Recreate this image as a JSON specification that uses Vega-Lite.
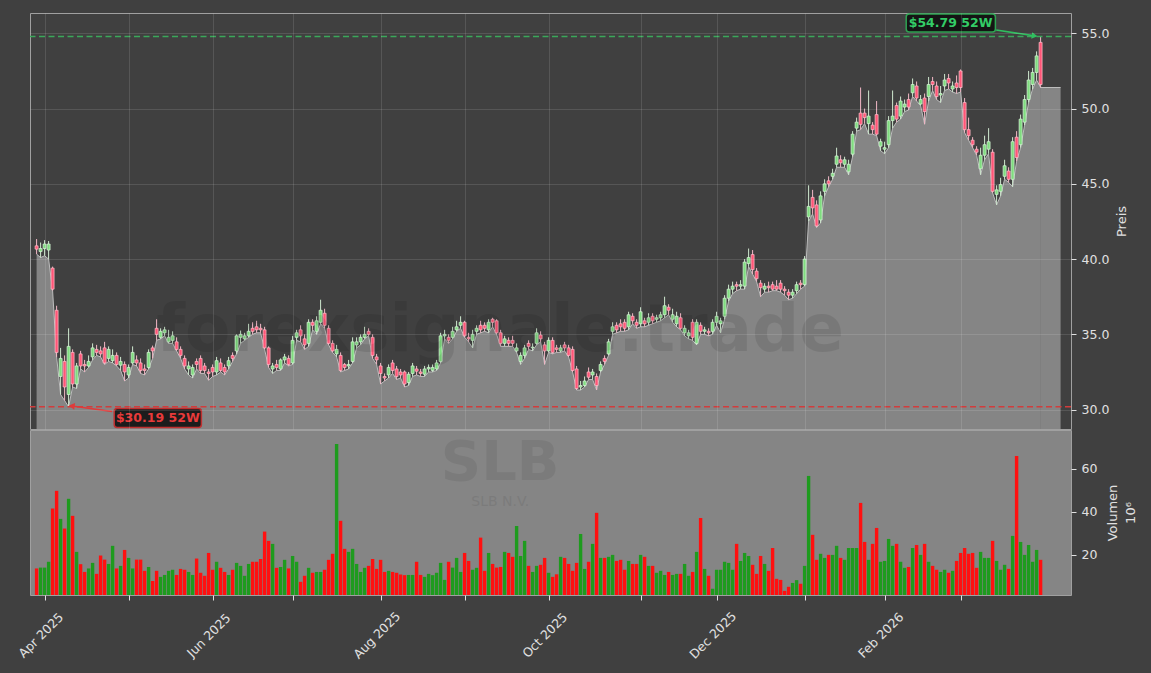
{
"$schema": "https://vega.github.io/schema/vega-lite/v6.json",
"background": "#404040",
"padding": {"left": 15, "top": 12, "right": 20, "bottom": 20},
"config": {"font": "DejaVu Sans", "view": {"stroke": "#a0a0a0", "strokeWidth": 1}},
"datasets": {
"ohlc": [
{"i":0,"o":40.88,"h":41.33,"l":40.33,"c":40.66,"v":13.7},
{"i":1,"o":40.5,"h":41.1,"l":40.1,"c":40.7,"v":14.1},
{"i":2,"o":40.7,"h":41.26,"l":40.22,"c":41.0,"v":14.1},
{"i":3,"o":40.6,"h":41.2,"l":40.0,"c":41.0,"v":16.8},
{"i":4,"o":39.4,"h":39.5,"l":37.9,"c":38.0,"v":41.5},
{"i":5,"o":36.6,"h":36.9,"l":33.5,"c":33.8,"v":49.7},
{"i":6,"o":32.2,"h":34.1,"l":31.0,"c":33.4,"v":36.7},
{"i":7,"o":33.2,"h":33.6,"l":30.6,"c":31.5,"v":32.2},
{"i":8,"o":31.0,"h":35.4,"l":30.19,"c":34.2,"v":46.0},
{"i":9,"o":33.8,"h":34.0,"l":31.5,"c":31.7,"v":38.1},
{"i":10,"o":31.7,"h":33.1,"l":31.4,"c":32.9,"v":21.4},
{"i":11,"o":33.7,"h":33.9,"l":32.7,"c":32.9,"v":15.7},
{"i":12,"o":33.0,"h":33.3,"l":32.5,"c":32.9,"v":12.1},
{"i":13,"o":32.9,"h":33.6,"l":32.8,"c":33.2,"v":13.7},
{"i":14,"o":33.5,"h":34.4,"l":33.3,"c":34.1,"v":16.3},
{"i":15,"o":34.0,"h":34.3,"l":33.6,"c":33.8,"v":11.2},
{"i":16,"o":33.9,"h":34.2,"l":33.5,"c":33.7,"v":19.7},
{"i":17,"o":34.1,"h":34.5,"l":33.0,"c":33.1,"v":17.8},
{"i":18,"o":33.4,"h":34.2,"l":33.2,"c":34.0,"v":15.8},
{"i":19,"o":33.25,"h":34.0,"l":33.1,"c":33.6,"v":24.2},
{"i":20,"o":33.6,"h":33.8,"l":32.9,"c":33.0,"v":13.7},
{"i":21,"o":32.95,"h":33.5,"l":32.6,"c":33.2,"v":14.9},
{"i":22,"o":33.0,"h":33.2,"l":31.9,"c":32.5,"v":22.3},
{"i":23,"o":32.3,"h":33.0,"l":32.1,"c":32.8,"v":18.6},
{"i":24,"o":33.1,"h":34.2,"l":33.0,"c":33.8,"v":13.7},
{"i":25,"o":33.3,"h":33.6,"l":32.9,"c":33.1,"v":17.8},
{"i":26,"o":33.1,"h":33.4,"l":32.4,"c":32.6,"v":17.8},
{"i":27,"o":32.7,"h":33.0,"l":32.3,"c":32.6,"v":12.6},
{"i":28,"o":32.8,"h":34.0,"l":32.7,"c":33.8,"v":14.4},
{"i":29,"o":34.1,"h":34.25,"l":33.4,"c":33.9,"v":7.9},
{"i":30,"o":35.4,"h":36.0,"l":34.6,"c":35.0,"v":12.6},
{"i":31,"o":34.8,"h":35.4,"l":34.7,"c":35.2,"v":9.8},
{"i":32,"o":35.1,"h":35.5,"l":34.9,"c":35.3,"v":10.7},
{"i":33,"o":34.5,"h":35.3,"l":34.4,"c":34.8,"v":12.6},
{"i":34,"o":34.6,"h":35.2,"l":34.4,"c":34.9,"v":13.1},
{"i":35,"o":34.5,"h":34.8,"l":33.9,"c":34.0,"v":10.7},
{"i":36,"o":34.0,"h":34.2,"l":33.4,"c":33.6,"v":13.5},
{"i":37,"o":33.4,"h":33.6,"l":32.7,"c":32.9,"v":13.1},
{"i":38,"o":32.7,"h":33.2,"l":32.3,"c":32.9,"v":12.1},
{"i":39,"o":32.3,"h":33.0,"l":32.1,"c":32.8,"v":10.7},
{"i":40,"o":33.2,"h":33.4,"l":32.7,"c":33.0,"v":18.3},
{"i":41,"o":33.4,"h":33.6,"l":32.4,"c":32.6,"v":11.7},
{"i":42,"o":32.9,"h":33.1,"l":32.4,"c":32.6,"v":10.3},
{"i":43,"o":32.5,"h":32.7,"l":31.95,"c":32.4,"v":20.9},
{"i":44,"o":32.8,"h":33.0,"l":32.2,"c":32.5,"v":13.1},
{"i":45,"o":32.5,"h":33.5,"l":32.3,"c":33.25,"v":16.8},
{"i":46,"o":33.1,"h":33.4,"l":32.5,"c":32.6,"v":14.0},
{"i":47,"o":32.8,"h":33.0,"l":32.3,"c":32.5,"v":12.1},
{"i":48,"o":32.9,"h":33.5,"l":32.7,"c":33.25,"v":10.7},
{"i":49,"o":33.6,"h":33.8,"l":33.2,"c":33.4,"v":13.1},
{"i":50,"o":33.9,"h":35.0,"l":33.7,"c":34.9,"v":16.3},
{"i":51,"o":34.8,"h":35.25,"l":34.4,"c":35.0,"v":14.9},
{"i":52,"o":34.7,"h":35.1,"l":34.6,"c":34.9,"v":10.3},
{"i":53,"o":34.9,"h":35.7,"l":34.8,"c":35.2,"v":15.8},
{"i":54,"o":35.4,"h":35.8,"l":35.0,"c":35.2,"v":16.8},
{"i":55,"o":35.5,"h":35.9,"l":35.1,"c":35.3,"v":16.8},
{"i":56,"o":35.4,"h":35.7,"l":35.1,"c":35.3,"v":18.1},
{"i":57,"o":35.3,"h":35.5,"l":34.0,"c":34.1,"v":30.8},
{"i":58,"o":34.1,"h":34.2,"l":32.8,"c":33.0,"v":26.5},
{"i":59,"o":32.7,"h":33.1,"l":32.4,"c":32.9,"v":25.1},
{"i":60,"o":33.0,"h":33.3,"l":32.6,"c":32.8,"v":14.0},
{"i":61,"o":32.7,"h":33.4,"l":32.6,"c":33.3,"v":14.4},
{"i":62,"o":33.3,"h":33.7,"l":33.1,"c":33.5,"v":17.7},
{"i":63,"o":33.4,"h":33.6,"l":32.9,"c":33.0,"v":13.7},
{"i":64,"o":33.1,"h":34.9,"l":33.0,"c":34.6,"v":19.5},
{"i":65,"o":34.8,"h":35.3,"l":34.6,"c":35.1,"v":16.8},
{"i":66,"o":35.3,"h":35.6,"l":34.5,"c":34.9,"v":7.5},
{"i":67,"o":34.7,"h":35.0,"l":34.0,"c":34.3,"v":10.3},
{"i":68,"o":34.4,"h":36.0,"l":34.2,"c":35.8,"v":14.0},
{"i":69,"o":35.8,"h":36.0,"l":35.3,"c":35.6,"v":11.7},
{"i":70,"o":35.2,"h":36.2,"l":35.0,"c":35.9,"v":12.1},
{"i":71,"o":35.8,"h":37.3,"l":35.7,"c":36.6,"v":12.1},
{"i":72,"o":36.4,"h":36.7,"l":35.4,"c":35.6,"v":13.1},
{"i":73,"o":35.4,"h":35.6,"l":34.3,"c":34.4,"v":17.7},
{"i":74,"o":34.4,"h":34.6,"l":33.8,"c":33.9,"v":20.5},
{"i":75,"o":33.7,"h":34.3,"l":33.5,"c":34.0,"v":71.4},
{"i":76,"o":33.6,"h":33.8,"l":32.5,"c":32.6,"v":35.8},
{"i":77,"o":33.0,"h":33.1,"l":32.6,"c":32.8,"v":22.8},
{"i":78,"o":32.9,"h":33.3,"l":32.7,"c":33.0,"v":21.4},
{"i":79,"o":33.2,"h":34.8,"l":33.1,"c":34.5,"v":22.8},
{"i":80,"o":34.3,"h":34.8,"l":34.1,"c":34.5,"v":15.8},
{"i":81,"o":34.5,"h":35.0,"l":34.3,"c":34.8,"v":12.1},
{"i":82,"o":34.8,"h":35.5,"l":34.7,"c":35.0,"v":14.0},
{"i":83,"o":35.2,"h":35.4,"l":34.9,"c":35.0,"v":14.9},
{"i":84,"o":34.8,"h":35.0,"l":33.4,"c":33.6,"v":18.1},
{"i":85,"o":33.5,"h":33.7,"l":33.0,"c":33.3,"v":13.5},
{"i":86,"o":32.9,"h":33.1,"l":31.7,"c":32.4,"v":17.7},
{"i":87,"o":32.2,"h":32.4,"l":31.9,"c":32.1,"v":12.1},
{"i":88,"o":32.3,"h":33.0,"l":32.1,"c":32.8,"v":12.6},
{"i":89,"o":33.1,"h":33.3,"l":32.4,"c":32.6,"v":12.1},
{"i":90,"o":32.7,"h":32.9,"l":32.0,"c":32.2,"v":11.7},
{"i":91,"o":32.5,"h":32.7,"l":32.1,"c":32.3,"v":10.9},
{"i":92,"o":32.5,"h":32.6,"l":31.5,"c":31.7,"v":10.6},
{"i":93,"o":31.8,"h":32.5,"l":31.6,"c":32.35,"v":10.7},
{"i":94,"o":32.4,"h":33.1,"l":32.2,"c":32.9,"v":10.7},
{"i":95,"o":32.7,"h":32.9,"l":32.3,"c":32.55,"v":16.8},
{"i":96,"o":32.5,"h":32.7,"l":32.2,"c":32.4,"v":10.7},
{"i":97,"o":32.35,"h":32.9,"l":32.2,"c":32.7,"v":9.8},
{"i":98,"o":32.7,"h":33.0,"l":32.5,"c":32.8,"v":11.2},
{"i":99,"o":32.6,"h":33.0,"l":32.5,"c":32.8,"v":10.6},
{"i":100,"o":32.7,"h":33.3,"l":32.6,"c":33.1,"v":11.7},
{"i":101,"o":33.2,"h":35.1,"l":33.1,"c":34.9,"v":16.3},
{"i":102,"o":34.9,"h":35.3,"l":34.7,"c":35.0,"v":8.4},
{"i":103,"o":34.8,"h":35.0,"l":34.4,"c":34.6,"v":16.8},
{"i":104,"o":34.8,"h":35.5,"l":34.7,"c":35.2,"v":14.1},
{"i":105,"o":35.3,"h":35.9,"l":35.2,"c":35.5,"v":18.6},
{"i":106,"o":35.6,"h":36.2,"l":35.4,"c":35.8,"v":12.1},
{"i":107,"o":35.8,"h":35.9,"l":34.8,"c":34.9,"v":20.9},
{"i":108,"o":34.8,"h":35.1,"l":34.5,"c":34.7,"v":17.2},
{"i":109,"o":34.6,"h":35.3,"l":34.1,"c":35.0,"v":13.1},
{"i":110,"o":35.2,"h":35.6,"l":35.0,"c":35.4,"v":14.0},
{"i":111,"o":35.6,"h":35.9,"l":35.1,"c":35.3,"v":28.0},
{"i":112,"o":35.6,"h":35.8,"l":35.2,"c":35.4,"v":12.6},
{"i":113,"o":35.3,"h":36.0,"l":35.1,"c":35.8,"v":20.9},
{"i":114,"o":36.0,"h":36.1,"l":35.5,"c":35.8,"v":15.8},
{"i":115,"o":35.9,"h":36.0,"l":35.0,"c":35.1,"v":14.1},
{"i":116,"o":35.1,"h":35.3,"l":34.2,"c":34.4,"v":14.4},
{"i":117,"o":34.4,"h":34.9,"l":34.2,"c":34.7,"v":21.4},
{"i":118,"o":34.6,"h":34.8,"l":34.2,"c":34.4,"v":20.9},
{"i":119,"o":34.6,"h":34.9,"l":34.2,"c":34.4,"v":19.1},
{"i":120,"o":33.9,"h":34.4,"l":33.8,"c":34.1,"v":33.4},
{"i":121,"o":33.2,"h":33.8,"l":33.0,"c":33.6,"v":19.5},
{"i":122,"o":33.6,"h":34.3,"l":33.4,"c":34.1,"v":26.5},
{"i":123,"o":34.4,"h":34.6,"l":34.0,"c":34.2,"v":14.9},
{"i":124,"o":34.1,"h":34.4,"l":33.9,"c":34.15,"v":12.1},
{"i":125,"o":34.4,"h":35.4,"l":34.3,"c":35.1,"v":14.9},
{"i":126,"o":34.95,"h":35.2,"l":34.5,"c":34.7,"v":15.4},
{"i":127,"o":34.3,"h":34.5,"l":33.0,"c":33.9,"v":18.6},
{"i":128,"o":33.9,"h":34.8,"l":33.8,"c":34.6,"v":11.7},
{"i":129,"o":34.6,"h":34.8,"l":33.7,"c":33.8,"v":9.8},
{"i":130,"o":34.1,"h":34.3,"l":33.8,"c":34.0,"v":11.0},
{"i":131,"o":33.9,"h":34.3,"l":33.8,"c":34.1,"v":19.1},
{"i":132,"o":34.3,"h":34.5,"l":33.9,"c":34.1,"v":18.6},
{"i":133,"o":34.1,"h":34.3,"l":33.5,"c":33.6,"v":15.8},
{"i":134,"o":34.0,"h":34.2,"l":32.5,"c":32.6,"v":12.6},
{"i":135,"o":32.7,"h":32.9,"l":31.3,"c":31.4,"v":16.3},
{"i":136,"o":31.5,"h":31.9,"l":31.3,"c":31.6,"v":29.7},
{"i":137,"o":31.6,"h":32.2,"l":31.5,"c":31.9,"v":13.5},
{"i":138,"o":32.5,"h":32.8,"l":32.0,"c":32.15,"v":16.8},
{"i":139,"o":32.3,"h":32.7,"l":32.0,"c":32.5,"v":25.1},
{"i":140,"o":32.2,"h":32.4,"l":31.3,"c":31.6,"v":39.5},
{"i":141,"o":32.6,"h":33.2,"l":32.5,"c":33.0,"v":18.6},
{"i":142,"o":33.4,"h":33.6,"l":33.0,"c":33.2,"v":18.6},
{"i":143,"o":33.7,"h":34.7,"l":33.6,"c":34.5,"v":19.1},
{"i":144,"o":35.2,"h":35.8,"l":35.0,"c":35.5,"v":20.0},
{"i":145,"o":35.6,"h":35.8,"l":35.1,"c":35.3,"v":17.2},
{"i":146,"o":35.7,"h":36.0,"l":35.2,"c":35.5,"v":17.7},
{"i":147,"o":35.8,"h":36.0,"l":35.2,"c":35.4,"v":13.1},
{"i":148,"o":35.5,"h":36.5,"l":35.3,"c":36.3,"v":17.2},
{"i":149,"o":36.2,"h":36.4,"l":35.7,"c":35.9,"v":15.8},
{"i":150,"o":35.8,"h":36.0,"l":35.4,"c":35.6,"v":15.8},
{"i":151,"o":35.7,"h":36.8,"l":35.5,"c":36.5,"v":20.0},
{"i":152,"o":35.9,"h":36.1,"l":35.5,"c":35.7,"v":19.1},
{"i":153,"o":35.8,"h":36.4,"l":35.6,"c":36.1,"v":14.9},
{"i":154,"o":36.2,"h":36.4,"l":35.7,"c":35.9,"v":14.9},
{"i":155,"o":36.0,"h":36.3,"l":35.8,"c":36.1,"v":11.7},
{"i":156,"o":36.1,"h":36.5,"l":35.9,"c":36.3,"v":12.6},
{"i":157,"o":36.3,"h":37.5,"l":36.1,"c":36.9,"v":10.7},
{"i":158,"o":36.8,"h":37.0,"l":36.3,"c":36.6,"v":12.1},
{"i":159,"o":36.0,"h":36.7,"l":35.8,"c":36.3,"v":10.7},
{"i":160,"o":35.7,"h":36.5,"l":35.5,"c":36.2,"v":11.2},
{"i":161,"o":36.1,"h":36.4,"l":35.3,"c":35.4,"v":11.2},
{"i":162,"o":35.1,"h":35.6,"l":34.9,"c":35.4,"v":15.8},
{"i":163,"o":34.9,"h":35.3,"l":34.7,"c":35.1,"v":10.3},
{"i":164,"o":35.8,"h":36.0,"l":34.6,"c":34.8,"v":12.1},
{"i":165,"o":34.4,"h":36.0,"l":34.3,"c":35.8,"v":21.4},
{"i":166,"o":35.6,"h":35.8,"l":35.0,"c":35.2,"v":37.1},
{"i":167,"o":35.2,"h":35.5,"l":35.0,"c":35.3,"v":13.5},
{"i":168,"o":35.2,"h":35.4,"l":34.9,"c":35.1,"v":10.3},
{"i":169,"o":35.2,"h":36.0,"l":35.0,"c":35.8,"v":4.3},
{"i":170,"o":35.8,"h":36.5,"l":35.6,"c":36.2,"v":13.1},
{"i":171,"o":35.7,"h":36.1,"l":35.1,"c":35.9,"v":13.1},
{"i":172,"o":36.2,"h":37.6,"l":36.0,"c":37.4,"v":16.8},
{"i":173,"o":37.4,"h":38.3,"l":37.2,"c":38.0,"v":16.3},
{"i":174,"o":38.0,"h":38.5,"l":37.7,"c":38.2,"v":13.1},
{"i":175,"o":38.3,"h":38.5,"l":37.9,"c":38.2,"v":25.1},
{"i":176,"o":38.2,"h":38.6,"l":38.0,"c":38.3,"v":17.2},
{"i":177,"o":38.2,"h":40.0,"l":38.0,"c":39.8,"v":20.9},
{"i":178,"o":39.7,"h":40.7,"l":39.5,"c":40.1,"v":19.5},
{"i":179,"o":40.3,"h":40.6,"l":39.0,"c":39.3,"v":15.4},
{"i":180,"o":39.2,"h":39.4,"l":38.5,"c":38.7,"v":11.2},
{"i":181,"o":38.4,"h":38.6,"l":37.5,"c":38.1,"v":19.5},
{"i":182,"o":38.0,"h":38.4,"l":37.8,"c":38.2,"v":15.8},
{"i":183,"o":38.2,"h":38.5,"l":37.8,"c":38.1,"v":12.6},
{"i":184,"o":38.3,"h":38.5,"l":37.9,"c":38.0,"v":23.2},
{"i":185,"o":38.2,"h":38.6,"l":37.9,"c":38.0,"v":8.9},
{"i":186,"o":38.4,"h":38.6,"l":37.8,"c":38.0,"v":8.4},
{"i":187,"o":38.0,"h":38.2,"l":37.6,"c":37.9,"v":3.3},
{"i":188,"o":37.8,"h":38.0,"l":37.3,"c":37.6,"v":5.2},
{"i":189,"o":37.6,"h":38.0,"l":37.4,"c":37.8,"v":7.0},
{"i":190,"o":37.9,"h":38.5,"l":37.7,"c":38.3,"v":8.3},
{"i":191,"o":38.4,"h":38.6,"l":38.0,"c":38.3,"v":6.6},
{"i":192,"o":38.3,"h":40.2,"l":38.2,"c":40.0,"v":14.9},
{"i":193,"o":42.8,"h":44.9,"l":42.5,"c":43.5,"v":56.6},
{"i":194,"o":44.1,"h":44.6,"l":43.0,"c":43.4,"v":29.3},
{"i":195,"o":43.6,"h":43.9,"l":42.1,"c":42.2,"v":17.7},
{"i":196,"o":42.6,"h":44.5,"l":42.4,"c":44.2,"v":20.5},
{"i":197,"o":44.5,"h":45.3,"l":44.2,"c":45.0,"v":18.6},
{"i":198,"o":45.2,"h":45.5,"l":44.8,"c":45.0,"v":20.0},
{"i":199,"o":45.5,"h":46.0,"l":45.3,"c":45.7,"v":20.0},
{"i":200,"o":46.3,"h":47.4,"l":46.1,"c":46.85,"v":24.2},
{"i":201,"o":46.6,"h":46.9,"l":46.1,"c":46.4,"v":18.6},
{"i":202,"o":46.3,"h":46.8,"l":46.1,"c":46.6,"v":17.7},
{"i":203,"o":45.8,"h":46.6,"l":45.6,"c":46.3,"v":23.2},
{"i":204,"o":46.97,"h":48.5,"l":46.8,"c":48.3,"v":23.2},
{"i":205,"o":48.7,"h":49.4,"l":48.5,"c":49.1,"v":23.2},
{"i":206,"o":49.7,"h":51.4,"l":48.6,"c":48.95,"v":44.1},
{"i":207,"o":49.7,"h":50.0,"l":49.0,"c":49.4,"v":26.0},
{"i":208,"o":49.0,"h":51.2,"l":48.3,"c":49.5,"v":17.7},
{"i":209,"o":48.9,"h":49.1,"l":48.3,"c":48.6,"v":25.1},
{"i":210,"o":49.6,"h":50.5,"l":48.2,"c":48.3,"v":32.5},
{"i":211,"o":47.5,"h":48.0,"l":47.2,"c":47.8,"v":16.8},
{"i":212,"o":47.3,"h":47.8,"l":47.0,"c":47.4,"v":17.2},
{"i":213,"o":47.6,"h":49.5,"l":47.4,"c":49.2,"v":27.4},
{"i":214,"o":49.2,"h":51.2,"l":48.7,"c":49.5,"v":24.2},
{"i":215,"o":50.2,"h":50.4,"l":49.1,"c":49.3,"v":25.1},
{"i":216,"o":49.5,"h":50.8,"l":49.3,"c":50.5,"v":16.8},
{"i":217,"o":50.1,"h":50.6,"l":49.8,"c":50.3,"v":14.0},
{"i":218,"o":50.6,"h":51.0,"l":49.9,"c":50.1,"v":14.4},
{"i":219,"o":51.05,"h":52.0,"l":50.8,"c":51.6,"v":23.2},
{"i":220,"o":51.5,"h":51.8,"l":50.5,"c":50.7,"v":24.6},
{"i":221,"o":50.3,"h":50.9,"l":50.2,"c":50.6,"v":20.0},
{"i":222,"o":50.7,"h":51.0,"l":48.96,"c":49.8,"v":25.1},
{"i":223,"o":50.8,"h":52.1,"l":50.5,"c":51.6,"v":16.8},
{"i":224,"o":51.8,"h":52.1,"l":51.2,"c":51.6,"v":14.9},
{"i":225,"o":51.5,"h":51.8,"l":50.6,"c":50.8,"v":13.1},
{"i":226,"o":50.9,"h":51.5,"l":50.4,"c":51.0,"v":12.1},
{"i":227,"o":51.5,"h":52.3,"l":51.2,"c":51.9,"v":13.1},
{"i":228,"o":52.0,"h":52.3,"l":51.3,"c":51.7,"v":11.7},
{"i":229,"o":51.3,"h":51.8,"l":51.1,"c":51.5,"v":12.6},
{"i":230,"o":51.7,"h":52.2,"l":51.0,"c":51.4,"v":17.2},
{"i":231,"o":52.5,"h":52.6,"l":51.1,"c":51.4,"v":20.9},
{"i":232,"o":50.4,"h":50.7,"l":48.4,"c":48.6,"v":23.2},
{"i":233,"o":48.6,"h":49.4,"l":47.9,"c":48.2,"v":20.5},
{"i":234,"o":47.9,"h":48.1,"l":47.4,"c":47.6,"v":20.9},
{"i":235,"o":47.3,"h":47.5,"l":46.9,"c":47.1,"v":14.0},
{"i":236,"o":46.0,"h":47.4,"l":45.6,"c":46.9,"v":21.4},
{"i":237,"o":46.9,"h":48.2,"l":46.6,"c":47.6,"v":18.6},
{"i":238,"o":47.3,"h":48.7,"l":47.0,"c":47.8,"v":18.6},
{"i":239,"o":47.1,"h":47.3,"l":44.4,"c":44.5,"v":26.5},
{"i":240,"o":44.3,"h":44.9,"l":43.6,"c":44.6,"v":17.2},
{"i":241,"o":44.5,"h":45.4,"l":44.2,"c":44.95,"v":13.1},
{"i":242,"o":45.5,"h":46.6,"l":45.3,"c":46.2,"v":15.4},
{"i":243,"o":45.85,"h":46.1,"l":45.1,"c":45.3,"v":13.5},
{"i":244,"o":45.3,"h":48.1,"l":44.8,"c":47.8,"v":28.8},
{"i":245,"o":48.1,"h":48.5,"l":46.5,"c":46.75,"v":65.9},
{"i":246,"o":47.6,"h":49.6,"l":47.4,"c":49.3,"v":26.0},
{"i":247,"o":49.1,"h":50.9,"l":48.9,"c":50.6,"v":20.0},
{"i":248,"o":50.6,"h":52.5,"l":50.4,"c":51.9,"v":24.6},
{"i":249,"o":51.6,"h":52.7,"l":51.3,"c":52.4,"v":16.8},
{"i":250,"o":52.4,"h":53.8,"l":51.9,"c":53.5,"v":22.3},
{"i":251,"o":54.4,"h":54.79,"l":51.4,"c":51.6,"v":17.7}
]
},
"spacing": 1,
"bounds": "flush",
"resolve": {"scale": {"x": "independent", "y": "independent"}},
"vconcat": [
{
"width": 1041, "height": 416,
"view": {"fill": "#404040", "stroke": "#a0a0a0"},
"layer": [
{"data": {"name": "ohlc"},
 "mark": {"type": "area", "color": "#858585", "opacity": 1, "line": {"color": "#bdbdbd", "strokeWidth": 1}},
 "encoding": {
  "x": {"field": "i", "type": "quantitative", "scale": {"domain": [-0.4, 257.35], "nice": false, "zero": false},
        "axis": {"values": [2,23,44,64,86,107,128,151,170,192,212,231], "grid": true, "gridColor": "#ffffff", "gridOpacity": 0.15, "gridWidth": 0.8, "labels": false, "ticks": false, "domain": false, "title": null, "zindex": 1}},
  "y": {"field": "l", "type": "quantitative", "scale": {"domain": [28.71, 56.35], "nice": false, "zero": false},
        "axis": {"orient": "right", "values": [30,35,40,45,50,55], "format": ".1f", "grid": true, "gridColor": "#ffffff", "gridOpacity": 0.15, "gridWidth": 0.8, "zindex": 1, "domain": false, "tickSize": 5, "tickColor": "#e0e0e0", "labelColor": "#e0e0e0", "labelFontSize": 12.5, "labelPadding": 5, "title": "Preis", "titleColor": "#e0e0e0", "titleFontSize": 13, "titleFontWeight": "normal", "titleAngle": 270, "titlePadding": 20}},
  "y2": {"datum": 28.71}
 }},
{"data": {"values": [{"i": 250.9, "l": 51.4}, {"i": 256, "l": 51.4}]},
 "mark": {"type": "area", "color": "#858585", "opacity": 1, "line": {"color": "#bdbdbd", "strokeWidth": 1}},
 "encoding": {"x": {"field": "i", "type": "quantitative"}, "y": {"field": "l", "type": "quantitative"}, "y2": {"datum": 28.71}}},
{"data": {"name": "ohlc"},
 "mark": {"type": "rule", "strokeWidth": 1},
 "encoding": {"x": {"field": "i", "type": "quantitative"}, "y": {"field": "l", "type": "quantitative"}, "y2": {"field": "h"},
  "color": {"condition": {"test": "datum.c >= datum.o", "value": "#cfe8cf"}, "value": "#f2b8c6"}}},
{"data": {"name": "ohlc"},
 "mark": {"type": "bar", "size": 3, "strokeWidth": 0.7},
 "encoding": {"x": {"field": "i", "type": "quantitative"}, "y": {"field": "o", "type": "quantitative"}, "y2": {"field": "c"},
  "fill": {"condition": {"test": "datum.c >= datum.o", "value": "#7fdc7f"}, "value": "#ff5577"},
  "stroke": {"condition": {"test": "datum.c >= datum.o", "value": "#d8f5d8"}, "value": "#ffc0cb"}}},
{"data": {"values": [{"p": 54.79, "k": "hi"}, {"p": 30.19, "k": "lo"}]},
 "mark": {"type": "rule", "strokeDash": [6, 3.5], "strokeWidth": 1.4},
 "encoding": {"y": {"field": "p", "type": "quantitative"},
  "color": {"condition": {"test": "datum.k == 'hi'", "value": "#3aa85a"}, "value": "#d23c3c"}}},
{"data": {"values": [{"t": "forexsignale.trade", "x": 115.9, "y": 33.9}]},
 "mark": {"type": "text", "fontSize": 66, "fontWeight": "bold", "color": "#000000", "opacity": 0.09, "align": "center", "baseline": "alphabetic"},
 "encoding": {"x": {"field": "x", "type": "quantitative"}, "y": {"field": "y", "type": "quantitative"}, "text": {"field": "t"}}},
{"data": {"values": [{"x1": 239.9, "y1": 55.22, "x2": 249.5, "y2": 54.83, "k": "hi"}, {"x1": 18.9, "y1": 29.87, "x2": 8.8, "y2": 30.24, "k": "lo"}]},
 "mark": {"type": "rule", "strokeWidth": 1.6},
 "encoding": {"x": {"field": "x1", "type": "quantitative"}, "y": {"field": "y1", "type": "quantitative"}, "x2": {"field": "x2"}, "y2": {"field": "y2"},
  "color": {"condition": {"test": "datum.k == 'hi'", "value": "#2fbf5f"}, "value": "#e03a3a"}}},
{"data": {"values": [{"x": 249.5, "y": 54.83, "k": "hi"}, {"x": 8.8, "y": 30.24, "k": "lo"}]},
 "mark": {"type": "point", "filled": true, "size": 45, "opacity": 1, "angle": 8},
 "encoding": {"x": {"field": "x", "type": "quantitative"}, "y": {"field": "y", "type": "quantitative"},
  "shape": {"condition": {"test": "datum.k == 'hi'", "value": "triangle-right"}, "value": "triangle-left"},
  "color": {"condition": {"test": "datum.k == 'hi'", "value": "#2fbf5f"}, "value": "#e03a3a"}}},
{"data": {"values": [{"x1": 217.4, "x2": 239.7, "y1": 55.08, "y2": 56.28, "k": "hi"}, {"x1": 19.4, "x2": 41.2, "y1": 28.81, "y2": 30.07, "k": "lo"}]},
 "mark": {"type": "rect", "fill": "#111111", "fillOpacity": 0.9, "strokeWidth": 1.5, "cornerRadius": 3},
 "encoding": {"x": {"field": "x1", "type": "quantitative"}, "x2": {"field": "x2"}, "y": {"field": "y1", "type": "quantitative"}, "y2": {"field": "y2"},
  "stroke": {"condition": {"test": "datum.k == 'hi'", "value": "#2ea352"}, "value": "#c03030"}}},
{"data": {"values": [{"t": "$54.79 52W", "x": 228.5, "y": 55.68, "k": "hi"}, {"t": "$30.19 52W", "x": 30.3, "y": 29.44, "k": "lo"}]},
 "mark": {"type": "text", "fontSize": 12.5, "fontWeight": "bold", "align": "center", "baseline": "middle"},
 "encoding": {"x": {"field": "x", "type": "quantitative"}, "y": {"field": "y", "type": "quantitative"}, "text": {"field": "t"},
  "color": {"condition": {"test": "datum.k == 'hi'", "value": "#33cc66"}, "value": "#e83a3a"}}}
]
},
{
"width": 1041, "height": 165,
"view": {"fill": "#858585", "stroke": "#a0a0a0"},
"layer": [
{"data": {"name": "ohlc"},
 "mark": {"type": "bar", "size": 3.4, "clip": true},
 "encoding": {
  "x": {"field": "i", "type": "quantitative", "scale": {"domain": [-0.4, 257.35], "nice": false, "zero": false},
        "axis": {"values": [2,23,44,64,86,107,128,151,170,192,212,231],
                 "labelExpr": "datum.value == 2 ? 'Apr 2025' : datum.value == 44 ? 'Jun 2025' : datum.value == 86 ? 'Aug 2025' : datum.value == 128 ? 'Oct 2025' : datum.value == 170 ? 'Dec 2025' : datum.value == 212 ? 'Feb 2026' : ''",
                 "labelAngle": -45, "labelAlign": "center", "labelBaseline": "middle", "labelPadding": 35, "labelOffset": -4, "labelOverlap": false, "labelFlush": false,
                 "tickSize": 5, "tickColor": "#e0e0e0", "labelColor": "#e0e0e0", "labelFontSize": 12.5, "domain": false, "grid": false, "title": null}},
  "y": {"field": "v", "type": "quantitative", "scale": {"domain": [1.4, 77.9], "nice": false, "zero": false},
        "axis": {"orient": "right", "values": [20,40,60], "format": "d", "grid": false, "domain": false, "tickSize": 5, "tickColor": "#e0e0e0", "labelColor": "#e0e0e0", "labelFontSize": 12.5, "labelPadding": 5, "title": ["Volumen", "10⁶"], "titleColor": "#e0e0e0", "titleFontSize": 13, "titleFontWeight": "normal", "titleAngle": 270, "titlePadding": 5, "titleLineHeight": 18}},
  "color": {"condition": {"test": "datum.c >= datum.o", "value": "#1e9b1e"}, "value": "#ff1010"}
 }},
{"data": {"values": [{"t": "SLB", "x": 115.9, "y": 54.8}]},
 "mark": {"type": "text", "fontSize": 56, "fontWeight": "bold", "color": "#000000", "opacity": 0.07, "align": "center", "baseline": "alphabetic"},
 "encoding": {"x": {"field": "x", "type": "quantitative"}, "y": {"field": "y", "type": "quantitative"}, "text": {"field": "t"}}},
{"data": {"values": [{"t": "SLB N.V.", "x": 115.9, "y": 47.6}]},
 "mark": {"type": "text", "fontSize": 14, "color": "#000000", "opacity": 0.07, "align": "center", "baseline": "top"},
 "encoding": {"x": {"field": "x", "type": "quantitative"}, "y": {"field": "y", "type": "quantitative"}, "text": {"field": "t"}}}
]
}
]
}
